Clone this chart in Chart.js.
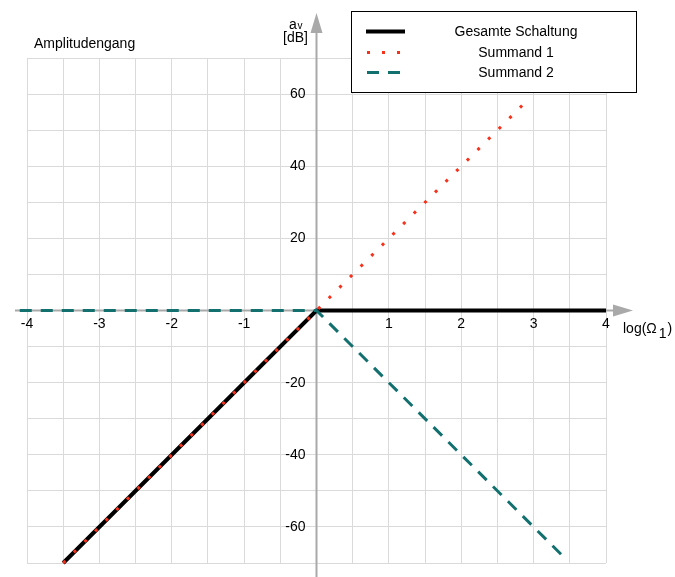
<!DOCTYPE html>
<html>
<head>
<meta charset="utf-8">
<script src="https://cdn.jsdelivr.net/npm/chart.js@4/dist/chart.umd.min.js"></script>
<style>
    html, body { margin: 0; padding: 0; background: #fff; }
    #wrap { width: 675px; height: 577px; position: relative; }
</style>
</head>
<body>
<div id="wrap"><canvas id="bode"></canvas></div>
<script>
// ======================================
// DATA
// ======================================
const seriesLabels = ["Gesamte Schaltung", "Summand 1", "Summand 2"];

const totalX = [-3.5, 0, 4];
const totalY = [-70, 0, 0];

const summand1X = [-3.5, 0, 2.85];
const summand1Y = [-70, 0, 57];

const summand2X = [-4.1, 0, 3.4];
const summand2Y = [0, 0, -68];

const xTickLabels = [-4, -3, -2, -1, 1, 2, 3, 4];
const yTickLabels = [60, 40, 20, -20, -40, -60];

// ======================================
// STYLE
// ======================================
const FONT = "'Liberation Sans', Arial, Helvetica, sans-serif";
const AXIS_COLOR = "#a9a9a9";
const GRID_COLOR = "#dadada";
const RED = "#f5321c";
const TEAL = "#12706e";

const toPoints = (xs, ys) => xs.map((x, i) => ({ x: x, y: ys[i] }));

// ======================================
// PLUGINS
// ======================================
const axesPlugin = {
    id: "axes",
    beforeDatasetsDraw(chart) {
        const { ctx, scales: { x, y } } = chart;
        const x0 = x.getPixelForValue(0);
        const y0 = y.getPixelForValue(0);
        ctx.save();
        ctx.strokeStyle = AXIS_COLOR;
        ctx.fillStyle = AXIS_COLOR;
        ctx.lineWidth = 2;

        // x axis + arrow
        ctx.beginPath();
        ctx.moveTo(x.left - 12, y0);
        ctx.lineTo(x.right + 8, y0);
        ctx.stroke();
        ctx.beginPath();
        ctx.moveTo(x.right + 27, y0);
        ctx.lineTo(x.right + 7, y0 - 6);
        ctx.lineTo(x.right + 7, y0 + 6);
        ctx.closePath();
        ctx.fill();

        // y axis + arrow
        ctx.beginPath();
        ctx.moveTo(x0, chart.height);
        ctx.lineTo(x0, y.top - 28);
        ctx.stroke();
        ctx.beginPath();
        ctx.moveTo(x0, y.top - 45);
        ctx.lineTo(x0 - 6, y.top - 25);
        ctx.lineTo(x0 + 6, y.top - 25);
        ctx.closePath();
        ctx.fill();
        ctx.restore();
    }
};

const labelsPlugin = {
    id: "labels",
    afterDraw(chart) {
        const { ctx, scales: { x, y } } = chart;
        const x0 = x.getPixelForValue(0);
        const y0 = y.getPixelForValue(0);
        ctx.save();
        ctx.fillStyle = "#000";
        ctx.font = "14px " + FONT;

        // tick labels
        ctx.textAlign = "center";
        ctx.textBaseline = "middle";
        xTickLabels.forEach(v => ctx.fillText(String(v), x.getPixelForValue(v), y0 + 14));
        ctx.textAlign = "right";
        yTickLabels.forEach(v => ctx.fillText(String(v), x0 - 11, y.getPixelForValue(v)));

        // titles
        ctx.textAlign = "left";
        ctx.textBaseline = "alphabetic";
        ctx.fillText("Amplitudengang", 34, 48);
        ctx.fillText("a", 289, 29);
        ctx.font = "10px " + FONT;
        ctx.fillText("v", 297.5, 29);
        ctx.font = "14px " + FONT;
        ctx.fillText("[dB]", 283, 42);

        let lx = x.right + 17;
        const ly = y0 + 22;
        ctx.fillText("log(Ω", lx, ly);
        lx += ctx.measureText("log(Ω").width + 2;
        ctx.fillText("1", lx, ly + 5);
        lx += ctx.measureText("1").width + 1;
        ctx.fillText(")", lx, ly);

        // legend
        const bx = 351.5, by = 11.5, bw = 285, bh = 81;
        ctx.fillStyle = "#fff";
        ctx.fillRect(bx, by, bw, bh);
        ctx.strokeStyle = "#000";
        ctx.lineWidth = 1;
        ctx.strokeRect(bx, by, bw, bh);

        const rows = [31.5, 52.5, 72.5];
        chart.data.datasets.forEach((ds, i) => {
            const ry = rows[i];
            ctx.save();
            ctx.strokeStyle = ds.borderColor;
            ctx.lineWidth = ds.borderWidth;
            ctx.lineCap = ds.borderCapStyle || "butt";
            ctx.setLineDash(ds.borderDash || []);
            ctx.beginPath();
            ctx.moveTo(ds.borderDash ? 367 : 366, ry);
            ctx.lineTo(405, ry);
            ctx.stroke();
            ctx.restore();
            ctx.fillStyle = "#000";
            ctx.font = "14px " + FONT;
            ctx.textAlign = "center";
            ctx.textBaseline = "middle";
            ctx.fillText(ds.label, 516, ry + 1);
        });
        ctx.restore();
    }
};

// ======================================
// CHART
// ======================================
const chart = new Chart(document.getElementById("bode"), {
    type: "line",
    data: {
        datasets: [
            {
                label: seriesLabels[0],
                data: toPoints(totalX, totalY),
                borderColor: "#000",
                borderWidth: 4,
                order: 3
            },
            {
                label: seriesLabels[1],
                data: toPoints(summand1X, summand1Y),
                borderColor: RED,
                borderWidth: 3,
                borderDash: [3, 12],
                order: 1
            },
            {
                label: seriesLabels[2],
                data: toPoints(summand2X, summand2Y),
                borderColor: TEAL,
                borderWidth: 3,
                borderDash: [12, 9],
                order: 2
            }
        ]
    },
    options: {
        responsive: true,
        maintainAspectRatio: false,
        animation: false,
        layout: { padding: { left: 27, right: 69, top: 58, bottom: 14 } },
        elements: {
            point: { radius: 0 },
            line: { tension: 0, fill: false }
        },
        datasets: { line: { clip: false } },
        plugins: {
            legend: { display: false },
            tooltip: { enabled: false }
        },
        scales: {
            x: {
                type: "linear",
                min: -4,
                max: 4,
                ticks: { display: false, stepSize: 0.5 },
                grid: { color: GRID_COLOR, lineWidth: 1, drawTicks: false },
                border: { display: false }
            },
            y: {
                type: "linear",
                min: -70,
                max: 70,
                ticks: { display: false, stepSize: 10 },
                grid: { color: GRID_COLOR, lineWidth: 1, drawTicks: false },
                border: { display: false }
            }
        }
    },
    plugins: [axesPlugin, labelsPlugin]
});
</script>
</body>
</html>
